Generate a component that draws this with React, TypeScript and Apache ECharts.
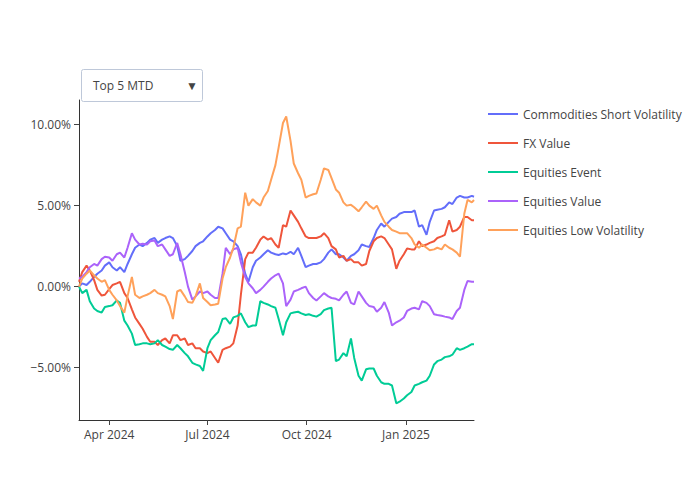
import React, { useEffect, useRef } from "react";
import * as echarts from "echarts";

const dates = [
  "2024-03-04","2024-03-07","2024-03-11","2024-03-14","2024-03-18","2024-03-21","2024-03-25","2024-03-28","2024-04-01","2024-04-04",
  "2024-04-08","2024-04-11","2024-04-15","2024-04-18","2024-04-22","2024-04-25","2024-04-29","2024-05-02","2024-05-06","2024-05-09",
  "2024-05-13","2024-05-16","2024-05-20","2024-05-23","2024-05-27","2024-05-30","2024-06-03","2024-06-06","2024-06-10","2024-06-13",
  "2024-06-17","2024-06-20","2024-06-24","2024-06-27","2024-07-01","2024-07-04","2024-07-08","2024-07-11","2024-07-15","2024-07-18",
  "2024-07-22","2024-07-25","2024-07-29","2024-08-01","2024-08-05","2024-08-08","2024-08-12","2024-08-15","2024-08-19","2024-08-22",
  "2024-08-26","2024-08-29","2024-09-02","2024-09-05","2024-09-09","2024-09-12","2024-09-16","2024-09-19","2024-09-23","2024-09-26",
  "2024-09-30","2024-10-03","2024-10-07","2024-10-10","2024-10-14","2024-10-17","2024-10-21","2024-10-24","2024-10-28","2024-10-31",
  "2024-11-04","2024-11-07","2024-11-11","2024-11-14","2024-11-18","2024-11-21","2024-11-25","2024-11-28","2024-12-02","2024-12-05",
  "2024-12-09","2024-12-12","2024-12-16","2024-12-19","2024-12-23","2024-12-26","2024-12-30","2025-01-02","2025-01-06","2025-01-09",
  "2025-01-13","2025-01-16","2025-01-20","2025-01-23","2025-01-27","2025-01-30","2025-02-03","2025-02-06","2025-02-10","2025-02-13",
  "2025-02-17","2025-02-20","2025-02-24","2025-02-27","2025-03-03","2025-03-05",
];

const commoditiesShortVolatility = [
  0.0,0.2,0.1,0.3,0.6,0.8,1.0,1.3,1.5,1.2,
  1.0,1.2,0.9,1.4,2.0,2.4,2.6,2.5,2.7,2.9,
  3.0,2.7,2.9,3.0,3.1,3.0,2.5,1.6,1.7,1.9,
  2.2,2.5,2.7,2.8,3.1,3.3,3.5,3.7,3.6,3.3,
  2.9,2.8,2.5,2.0,0.8,0.3,1.2,1.6,1.8,2.0,
  2.25,2.1,2.0,1.95,2.05,2.0,2.15,2.0,2.4,1.9,
  1.2,1.3,1.4,1.4,1.5,1.7,2.1,2.3,2.0,2.0,
  1.8,1.6,1.9,2.0,2.25,2.6,2.5,2.45,3.0,3.5,
  3.9,3.7,4.0,4.2,4.3,4.5,4.6,4.6,4.6,4.7,
  3.7,3.8,3.2,4.0,4.7,4.75,4.8,4.9,5.2,5.1,
  5.5,5.6,5.5,5.5,5.6,5.55,
];

const fxValue = [
  0.3,0.9,1.3,1.0,0.4,-0.2,-0.55,-0.5,-0.15,0.1,
  0.2,0.3,-0.4,-0.7,-1.4,-1.9,-2.3,-2.6,-3.1,-3.4,
  -3.4,-3.6,-3.3,-3.2,-3.5,-3.0,-3.0,-3.3,-3.2,-3.6,
  -3.5,-3.8,-3.8,-4.0,-4.1,-4.0,-4.4,-4.7,-3.9,-3.8,
  -3.7,-3.5,-2.4,-0.5,1.7,2.1,2.1,2.4,2.9,3.1,
  2.9,3.0,2.6,2.4,3.8,3.7,4.7,4.4,4.0,3.6,
  3.1,3.0,3.0,3.0,3.1,3.3,3.0,2.5,2.3,1.8,
  1.9,1.6,1.7,1.5,1.5,1.3,1.4,2.2,2.8,3.0,
  3.1,3.0,2.6,2.3,1.1,1.6,2.0,2.35,2.3,2.3,
  2.8,2.5,2.6,2.7,2.8,3.0,3.1,3.2,4.1,3.4,
  3.5,3.7,4.3,4.3,4.1,4.1,
];

const equitiesEvent = [
  0.0,-0.4,-0.2,-0.9,-1.35,-1.5,-1.6,-1.25,-1.2,-1.15,
  -0.85,-1.0,-2.1,-2.4,-2.9,-3.6,-3.55,-3.5,-3.5,-3.55,
  -3.5,-3.3,-3.6,-3.7,-3.85,-3.9,-3.6,-3.8,-4.1,-4.3,
  -4.7,-4.8,-4.9,-5.2,-3.8,-3.3,-3.0,-2.8,-2.0,-1.95,
  -2.3,-1.9,-1.8,-1.65,-2.2,-2.5,-2.4,-2.4,-0.9,-1.0,
  -1.1,-1.2,-1.3,-2.0,-3.0,-2.2,-1.65,-1.6,-1.55,-1.65,
  -1.75,-1.7,-1.8,-1.85,-1.7,-1.45,-1.35,-1.3,-4.6,-4.5,
  -4.1,-4.3,-3.2,-4.4,-5.5,-5.8,-5.1,-5.05,-5.05,-5.5,
  -5.9,-6.0,-6.0,-6.1,-7.2,-7.1,-6.9,-6.7,-6.5,-6.1,
  -6.0,-5.9,-5.8,-5.5,-4.8,-4.6,-4.5,-4.35,-4.3,-4.2,
  -3.8,-3.9,-3.8,-3.7,-3.55,-3.55,
];

const equitiesValue = [
  0.5,0.6,0.9,1.2,1.4,1.3,1.7,1.85,1.8,1.6,
  2.0,2.1,1.8,2.4,3.3,2.9,2.6,2.65,2.6,2.8,
  2.85,2.5,2.6,2.3,1.9,2.0,2.7,2.0,0.9,0.0,
  -0.8,-0.6,-0.3,-0.4,-0.3,-0.5,-0.7,-0.7,0.8,2.4,
  2.0,2.3,2.4,1.5,0.6,0.2,-0.1,-0.4,-0.2,0.0,
  0.3,0.5,0.7,0.8,0.2,-1.2,-0.8,-0.3,-0.2,-0.1,
  0.0,-0.4,-0.7,-0.85,-0.6,-0.4,-0.6,-0.7,-0.75,-0.85,
  -0.5,-0.3,-1.0,-1.1,-0.3,-0.6,-1.0,-1.2,-1.25,-1.55,
  -1.3,-0.95,-1.6,-2.4,-2.2,-2.1,-1.9,-1.5,-1.35,-1.3,
  -1.4,-0.9,-1.0,-1.2,-1.7,-1.75,-1.8,-1.85,-1.9,-2.0,
  -1.5,-1.3,-0.2,0.35,0.3,0.3,
];

const equitiesLowVolatility = [
  0.0,0.5,0.8,1.0,0.7,0.5,0.3,0.4,-0.2,-0.5,
  -0.85,-1.2,-1.6,-0.6,0.6,-0.5,-0.7,-0.6,-0.5,-0.4,
  -0.2,-0.4,-0.5,-0.6,-1.2,-2.0,-0.3,-0.2,-0.6,-0.95,
  -1.0,-0.6,0.2,-0.7,-0.95,-1.15,-1.1,-1.05,0.5,1.2,
  1.8,2.4,3.6,3.7,5.8,5.0,5.4,5.2,5.0,5.5,
  5.9,6.6,7.5,8.6,10.1,10.5,9.0,7.6,7.0,6.6,
  5.5,5.6,5.7,5.75,6.6,7.3,7.2,6.7,6.0,5.8,
  5.2,5.0,5.05,4.9,4.65,4.9,5.25,5.0,4.8,5.0,
  4.4,4.0,3.7,3.5,3.4,3.3,3.3,3.3,3.0,2.6,
  2.4,2.6,2.4,2.25,2.3,2.4,2.3,2.6,2.4,2.3,
  2.1,1.85,4.5,5.35,5.2,5.35,
];

const seriesNames = [
  "Commodities Short Volatility",
  "FX Value",
  "Equities Event",
  "Equities Value",
  "Equities Low Volatility",
];
const seriesColors = ["#636efa", "#EF553B", "#00cc96", "#ab63fa", "#FFA15A"];

const yTickValues = [-5, 0, 5, 10];
const xTickDates = ["2024-04-01", "2024-07-01", "2024-10-01", "2025-01-01"];
const xTickLabels = ["Apr 2024", "Jul 2024", "Oct 2024", "Jan 2025"];
const dropdownLabel = "Top 5 MTD";

const FONT = "'Open Sans', 'Noto Sans', sans-serif";
const toTs = (s: string) => Date.parse(s + "T00:00:00Z");

export default function App() {
  const ref = useRef<HTMLDivElement>(null);

  useEffect(() => {
    if (!ref.current) return;
    const chart = echarts.init(ref.current, null, { renderer: "svg" });
    const ts = dates.map(toTs);
    const xTickTs = xTickDates.map(toTs);
    const allValues = [
      commoditiesShortVolatility,
      fxValue,
      equitiesEvent,
      equitiesValue,
      equitiesLowVolatility,
    ];

    const option: any = {
      animation: false,
      backgroundColor: "#fff",
      textStyle: { fontFamily: FONT },
      grid: { left: 79, right: 226, top: 100, bottom: 80, containLabel: false },
      xAxis: {
        type: "value",
        min: ts[0],
        max: ts[ts.length - 1],
        axisLine: { show: true, onZero: false, lineStyle: { color: "#333", width: 1 } },
        axisTick: {
          show: true,
          length: 5,
          customValues: xTickTs,
          lineStyle: { color: "#444" },
        },
        axisLabel: {
          customValues: xTickTs,
          margin: 8,
          color: "#444",
          fontSize: 12,
          fontFamily: FONT,
          formatter: (v: number) => {
            const idx = xTickTs.findIndex((t) => Math.abs(t - v) < 43200000);
            return idx >= 0 ? xTickLabels[idx] : "";
          },
        },
        splitLine: { show: false },
      },
      yAxis: {
        type: "value",
        min: -8.23,
        max: 11.52,
        axisLine: { show: true, onZero: false, lineStyle: { color: "#333", width: 1 } },
        axisTick: {
          show: true,
          length: 5,
          customValues: yTickValues,
          lineStyle: { color: "#444" },
        },
        axisLabel: {
          customValues: yTickValues,
          margin: 8,
          color: "#444",
          fontSize: 12,
          fontFamily: FONT,
          formatter: (v: number) =>
            (v < 0 ? "\u2212" : "") + Math.abs(v).toFixed(2) + "%",
        },
        splitLine: { show: false },
      },
      legend: {
        show: true,
        orient: "vertical",
        left: 483,
        top: 103,
        icon: "rect",
        itemWidth: 30,
        itemHeight: 2,
        itemGap: 17,
        selectedMode: false,
        data: seriesNames,
        textStyle: { color: "#444", fontSize: 12, fontFamily: FONT },
      },
      series: allValues.map((vals, si) => ({
        name: seriesNames[si],
        type: "line",
        showSymbol: false,
        symbol: "none",
        color: seriesColors[si],
        lineStyle: { width: 2, color: seriesColors[si] },
        data: ts.map((t, i) => [t, vals[i]]),
      })),
      graphic: [
        {
          type: "rect",
          shape: { x: 81.5, y: 69.5, width: 121, height: 32, r: 2 },
          style: { fill: "#fff", stroke: "#BEC8D9", lineWidth: 1 },
          z: 10,
        },
        {
          type: "text",
          x: 93,
          y: 85.5,
          style: {
            text: dropdownLabel,
            fill: "#444",
            font: `12px ${FONT}`,
            verticalAlign: "middle",
          },
          z: 11,
        },
        {
          type: "text",
          x: 192,
          y: 85,
          style: {
            text: "\u25BC",
            fill: "#444",
            font: `12px ${FONT}`,
            align: "center",
            verticalAlign: "middle",
          },
          z: 11,
        },
      ],
    };

    chart.setOption(option);
    return () => chart.dispose();
  }, []);

  return (
    <div
      ref={ref}
      style={{ position: "fixed", left: 0, top: 0, width: 700, height: 500, background: "#fff" }}
    />
  );
}
